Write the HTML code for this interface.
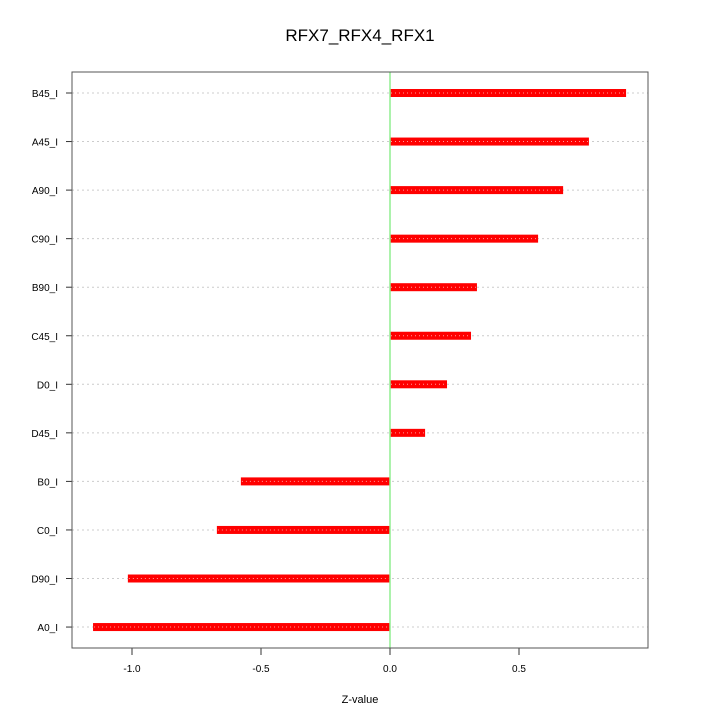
<!DOCTYPE html>
<html><head><meta charset="utf-8"><style>body{margin:0;background:#fff}svg{display:block;font-family:"Liberation Sans",sans-serif}</style></head>
<body>
<svg id="chart" width="720" height="720">
<text x="360" y="41" text-anchor="middle" font-size="17">RFX7_RFX4_RFX1</text>
<g id="grid"></g><g id="bars"></g><g id="axes"></g>
<rect x="72" y="72" width="576" height="576" fill="none" stroke="#555" stroke-width="1"/>
<text x="360" y="703" text-anchor="middle" font-size="11">Z-value</text>
</svg>
<script>
const categories = ["B45_I","A45_I","A90_I","C90_I","B90_I","C45_I","D0_I","D45_I","B0_I","C0_I","D90_I","A0_I"];
const values = [0.915,0.771,0.671,0.574,0.337,0.314,0.221,0.136,-0.578,-0.671,-1.016,-1.151];
const xTicks = [-1.0,-0.5,0.0,0.5];
const xTickLabels = ["-1.0","-0.5","0.0","0.5"];
const NS="http://www.w3.org/2000/svg";
const xs = v => 390 + v*258;
const ys = i => 93 + i*48.55;
function mk(t,a,p){const e=document.createElementNS(NS,t);for(const k in a)e.setAttribute(k,a[k]);p.appendChild(e);return e;}
const grid=document.getElementById('grid'),bars=document.getElementById('bars'),axes=document.getElementById('axes');
categories.forEach((c,i)=>{
  const y=ys(i);
  const g=mk('line',{x1:72,x2:648,y1:y,y2:y,stroke:'#ccc','stroke-dasharray':'2,3','stroke-width':1},grid);
  
  
  const x0=Math.min(xs(0),xs(values[i])),x1=Math.max(xs(0),xs(values[i]));
  const b=mk('rect',{x:x0,y:y-4,width:x1-x0,height:8,fill:'#ff0000'},bars);
  
  
  const d=mk('line',{x1:x0+1,x2:x1-1,y1:y,y2:y,stroke:'#ff9a9a','stroke-dasharray':'1,3','stroke-width':1},bars);
  
  
  const tk=mk('line',{x1:66,x2:72,y1:y,y2:y,stroke:'#333'},axes);
  
  
  const t=mk('text',{x:58,y:y+4,'text-anchor':'end','font-size':10},axes);
  t.textContent=c;
  
  
});
const z=mk('line',{x1:xs(0),x2:xs(0),y1:72,y2:648,stroke:'#90ee90','stroke-width':1.5},bars);


xTicks.forEach((v,i)=>{
  const tk=mk('line',{x1:xs(v),x2:xs(v),y1:648,y2:655,stroke:'#333'},axes);
  
  
  const t=mk('text',{x:xs(v),y:672,'text-anchor':'middle','font-size':10},axes);
  t.textContent=xTickLabels[i];
  
  
});
</script>
</body></html>
